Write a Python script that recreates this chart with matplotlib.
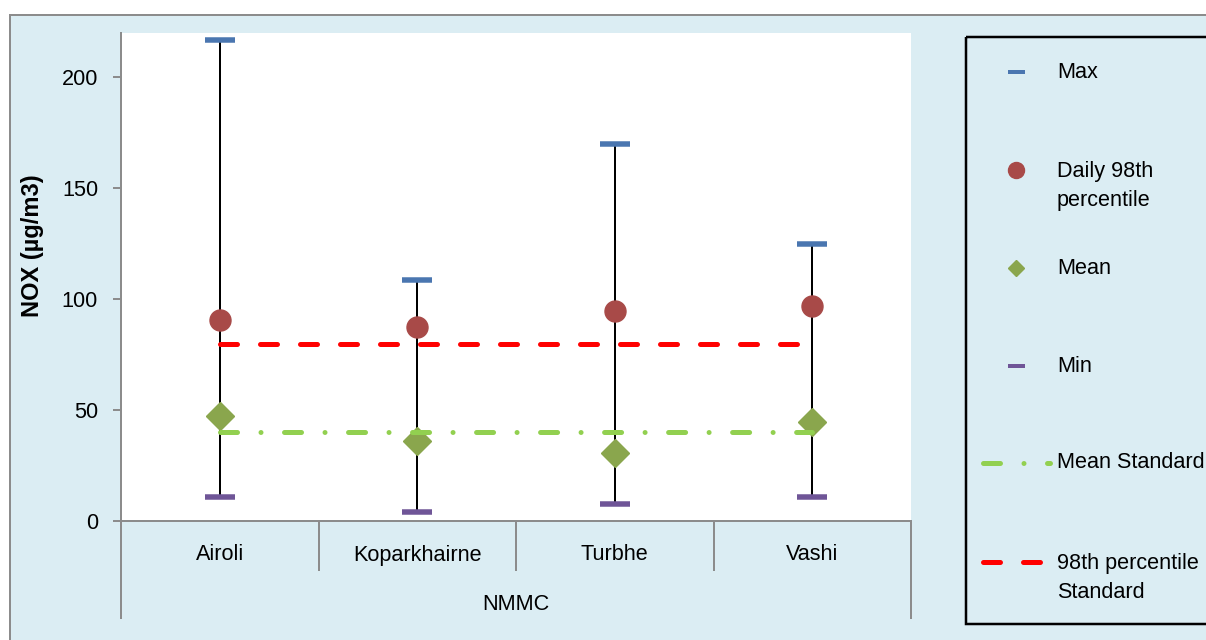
import matplotlib.pyplot as plt
import matplotlib.transforms as mtransforms
from matplotlib.patches import Rectangle

# figure size in pixels (dpi 100)
W = 1206
H = 640
plt.rcParams['font.family'] = ['Liberation Sans', 'DejaVu Sans']
plt.rcParams['lines.scale_dashes'] = False

stations = ["Airoli", "Koparkhairne", "Turbhe", "Vashi"]
group_label = "NMMC"
max_vals = [217, 108.5, 170, 125]
p98_vals = [90.5, 87.5, 94.5, 97]
mean_vals = [47.5, 36, 30.5, 44.5]
min_vals = [11, 4, 7.5, 11]
mean_std = 40
p98_std = 80
yticks = [0, 50, 100, 150, 200]

chart_bg = "#DBEDF3"
spine_grey = "#8C8C8C"
max_col = "#4A76B0"
min_col = "#6F5597"
p98_col = "#A84A48"
mean_col = "#8AA64D"
mean_std_col = "#92D050"
p98_std_col = "#FF0000"
txt_size = 15.6

PX = 72 / 100.0  # pixels -> points
mean_dash = (17 * PX, 23.5 * PX, 0.01, 23.5 * PX)
p98_dash = (17 * PX, 23 * PX)


def fx(x):
    return x / W


def fy(y):
    return 1 - y / H


fig = plt.figure(figsize=(W / 100, H / 100), dpi=100, facecolor="white")

# chart area (runs past the right and bottom edges)
fig.patches.append(Rectangle((fx(10), -0.1), 1.2, fy(15) + 0.1, transform=fig.transFigure,
                             facecolor=chart_bg, edgecolor=spine_grey, lw=2 * PX, zorder=-5))

ax = fig.add_axes([fx(121), fy(521), 790 / W, 488 / H], zorder=1)
ax.set_facecolor("white")
x = list(range(1, len(stations) + 1))
ax.set_xlim(0.5, len(stations) + 0.5)
ax.set_ylim(0, 220)

ax.vlines(x, min_vals, max_vals, color="black", lw=2 * PX, zorder=2)
ax.plot(x, max_vals, ls="none", marker="_", ms=30 * PX, mew=5.5 * PX, color=max_col, zorder=3)
ax.plot(x, min_vals, ls="none", marker="_", ms=30 * PX, mew=5.5 * PX, color=min_col, zorder=3)
ax.plot(x, p98_vals, ls="none", marker="o", ms=21 * PX, color=p98_col, mec=p98_col, zorder=3)
ax.plot(x, mean_vals, ls="none", marker="D", ms=20 * PX, color=mean_col, mec=mean_col, zorder=3)
ax.plot(x, [mean_std] * len(x), color=mean_std_col, lw=5 * PX, dashes=mean_dash,
        dash_capstyle="round", zorder=4)
ax.plot(x, [p98_std] * len(x), color=p98_std_col, lw=5 * PX, dashes=p98_dash,
        dash_capstyle="round", zorder=4)

for s in ["top", "right"]:
    ax.spines[s].set_visible(False)
for s in ["left", "bottom"]:
    ax.spines[s].set_color(spine_grey)
    ax.spines[s].set_linewidth(2 * PX)
ax.set_yticks(yticks)
ax.set_yticklabels([str(v) for v in yticks], fontsize=txt_size)
ax.tick_params(axis="y", direction="out", length=8 * PX, width=2 * PX, color=spine_grey, pad=15 * PX)
ax.set_xticks([])

# two level category axis
blend = mtransforms.blended_transform_factory(ax.transData, fig.transFigure)
for i, name in enumerate(stations):
    ax.text(x[i], fy(555), name, transform=blend, ha="center", va="center", fontsize=txt_size)
for b in range(len(stations) + 1):
    bx = 0.5 + b
    y_end = 618 if b in (0, len(stations)) else 570
    ax.plot([bx, bx], [fy(521), fy(y_end)], transform=blend, color=spine_grey,
            lw=2 * PX, clip_on=False)
ax.text((x[0] + x[-1]) / 2, fy(604), group_label, transform=blend, ha="center", va="center",
        fontsize=txt_size)

fig.text(fx(33), fy(246), "NOX (µg/m3)", rotation=90, ha="center", va="center",
         fontsize=17, fontweight="bold")

# legend, laid out in pixel coordinates
lg = fig.add_axes([0, 0, 1, 1], zorder=5)
lg.set_xlim(0, W)
lg.set_ylim(H, 0)
lg.axis("off")
lg.add_patch(Rectangle((966, 37), 300, 587, facecolor="none", edgecolor="black", lw=2.5 * PX))
sx = 1016
tx = 1057
lg.plot([sx], [72], marker="_", ms=17 * PX, mew=4 * PX, color=max_col)
lg.text(tx, 72, "Max", va="center", fontsize=txt_size)
lg.plot([sx], [170], marker="o", ms=16 * PX, color=p98_col, mec=p98_col)
lg.text(tx, 161, "Daily 98th\npercentile", va="top", fontsize=txt_size, linespacing=1.5)
lg.plot([sx], [268], marker="D", ms=11.5 * PX, color=mean_col, mec=mean_col)
lg.text(tx, 268, "Mean", va="center", fontsize=txt_size)
lg.plot([sx], [366], marker="_", ms=17 * PX, mew=4 * PX, color=min_col)
lg.text(tx, 366, "Min", va="center", fontsize=txt_size)
lg.plot([982.5, 1050], [463, 463], color=mean_std_col, lw=5 * PX, dashes=mean_dash,
        dash_capstyle="round")
lg.text(tx, 463, "Mean Standard", va="center", fontsize=txt_size)
lg.plot([982.5, 1039.5], [562, 562], color=p98_std_col, lw=5 * PX, dashes=p98_dash,
        dash_capstyle="round")
lg.text(tx, 553, "98th percentile\nStandard", va="top", fontsize=txt_size, linespacing=1.5)

fig.savefig("out.png", dpi=100, facecolor=fig.get_facecolor())
